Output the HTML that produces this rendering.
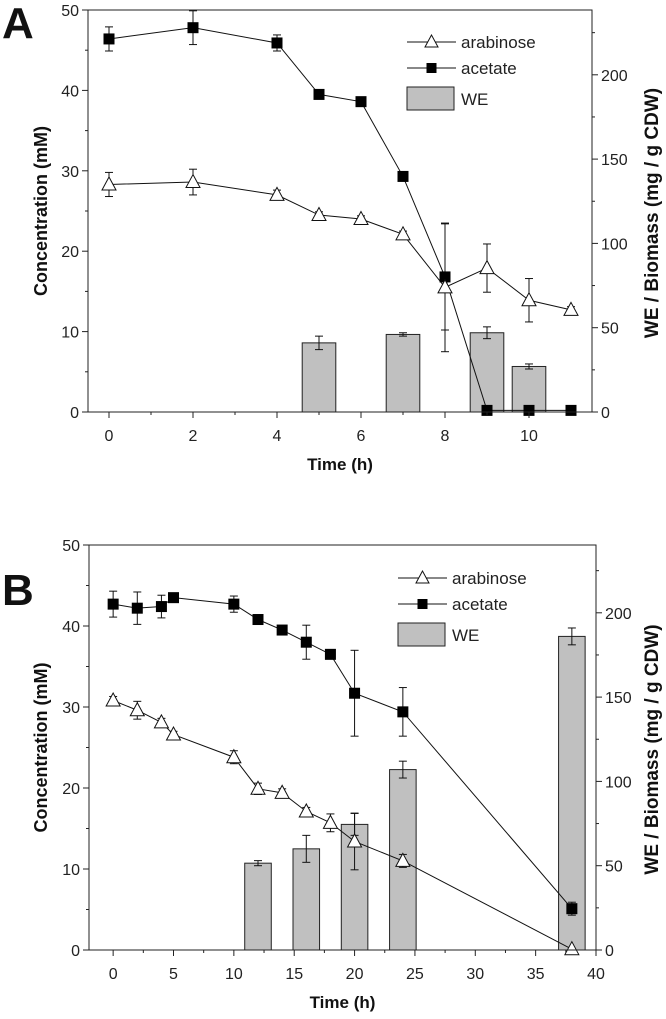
<!DOCTYPE html>
<html><head><meta charset="utf-8"><style>
body{margin:0;background:#fff;}
svg{display:block;font-family:"Liberation Sans",Arial,sans-serif;}
</style></head><body>
<svg id="fig" width="666" height="1019" viewBox="0 0 666 1019" xmlns="http://www.w3.org/2000/svg"></svg>
<script>
// Panel A data
const aTime = [0,2,4,5,6,7,8,9,10,11];
const aArab = [28.3,28.6,27.0,24.5,24.0,22.1,15.5,17.9,13.9,12.7];
const aArabErr = [1.5,1.6,0.6,0.4,0.4,0.4,8.0,3.0,2.7,0.4];
const aAcet = [46.4,47.8,45.9,39.5,38.6,29.3,16.8,0.2,0.2,0.2];
const aAcetErr = [1.5,2.1,1.0,0.3,0.4,0.5,6.6,0,0,0];
const aWETime = [5,7,9,10];
const aWE = [41,46,47,27];
const aWEErr = [4,1,3.5,1.5];
const aXTicks = [0,2,4,6,8,10];
// Panel B data
const bTime = [0,2,4,5,10,12,14,16,18,20,24,38];
const bArab = [30.8,29.6,28.1,26.6,23.8,19.9,19.4,17.1,15.7,13.4,11.0,0.1];
const bArabErr = [0.5,1.1,0.5,0.4,0.8,0.7,0.5,0.5,1.1,3.5,0.8,0];
const bAcet = [42.7,42.2,42.4,43.5,42.7,40.8,39.5,38.0,36.5,31.7,29.4,5.1];
const bAcetErr = [1.6,2.0,1.4,0.2,1.0,0.3,0.3,2.1,0.3,5.3,3.0,0.8];
const bWETime = [12,16,20,24,38];
const bWE = [51.5,60,74.5,107,186];
const bWEErr = [1.5,8,6.5,5,5];
const bXTicks = [0,5,10,15,20,25,30,35,40];
const yTicks = [0,10,20,30,40,50];
const y2Ticks = [0,50,100,150,200];

const NS="http://www.w3.org/2000/svg";
const svg=document.getElementById('fig');
function el(tag,attrs,parent,text){const e=document.createElementNS(NS,tag);for(const k in attrs)e.setAttribute(k,attrs[k]);if(text!==undefined)e.textContent=text;(parent||svg).appendChild(e);return e;}

function panel(cfg){
  const g=el('g',{});
  
  
  const X=v=>cfg.L+(v-cfg.xmin)/(cfg.xmax-cfg.xmin)*(cfg.R-cfg.L);
  const Y=v=>cfg.B-v/50*(cfg.B-cfg.T);
  const k2=84.3/50;
  const YR=v=>cfg.B-v*k2;
  cfg.weT.forEach((t,i)=>{
    const r=el('rect',{x:X(t-cfg.bw/2),y:YR(cfg.we[i]),width:X(t+cfg.bw/2)-X(t-cfg.bw/2),height:cfg.B-YR(cfg.we[i]),fill:'#c0c0c0',stroke:'#222','stroke-width':1},g);
    
    
    errbar(g,X(t),YR(cfg.we[i]+cfg.weE[i]),YR(cfg.we[i]-cfg.weE[i]),4);
  });
  const arabPts=cfg.t.map((t,i)=>X(t)+','+Y(cfg.arab[i])).join(' ');
  const acetPts=cfg.t.map((t,i)=>X(t)+','+Y(cfg.acet[i])).join(' ');
  const la=el('polyline',{points:acetPts,fill:'none',stroke:'#111','stroke-width':1},g);
  
  
  const lb=el('polyline',{points:arabPts,fill:'none',stroke:'#111','stroke-width':1},g);
  
  
  cfg.t.forEach((t,i)=>{
    if(cfg.acetE[i]>0)errbar(g,X(t),Y(cfg.acet[i]+cfg.acetE[i]),Y(cfg.acet[i]-cfg.acetE[i]),4);
    if(cfg.arabE[i]>0)errbar(g,X(t),Y(cfg.arab[i]+cfg.arabE[i]),Y(cfg.arab[i]-cfg.arabE[i]),4);
  });
  cfg.t.forEach((t,i)=>{
    const s=el('rect',{x:X(t)-5.5,y:Y(cfg.acet[i])-5.5,width:11,height:11,fill:'#000'},g);
    
    
  });
  cfg.t.forEach((t,i)=>{
    const x=X(t),y=Y(cfg.arab[i]);
    const p=el('polygon',{points:`${x},${y-7.5} ${x-7},${y+5.5} ${x+7},${y+5.5}`,fill:'#fff',stroke:'#111','stroke-width':1},g);
    
    
  });
  const f=el('rect',{x:cfg.L,y:cfg.T,width:cfg.R-cfg.L,height:cfg.B-cfg.T,fill:'none',stroke:'#222','stroke-width':1},g);
  
  
  cfg.xt.forEach((v,i)=>{
    el('line',{x1:X(v),x2:X(v),y1:cfg.B,y2:cfg.B+6,stroke:'#222'},g);
    const tl=el('text',{x:X(v),y:cfg.B+29,'text-anchor':'middle','font-size':16,fill:'#222'},g,v);
    
    
    if(i<cfg.xt.length-1){const m=(v+cfg.xt[i+1])/2;el('line',{x1:X(m),x2:X(m),y1:cfg.B,y2:cfg.B+3,stroke:'#222'},g);}
  });
  yTicks.forEach((v,i)=>{
    el('line',{x1:cfg.L-6,x2:cfg.L,y1:Y(v),y2:Y(v),stroke:'#222'},g);
    const tl=el('text',{x:cfg.L-9,y:Y(v)+6,'text-anchor':'end','font-size':16,fill:'#222'},g,v);
    
    
    if(i<yTicks.length-1)el('line',{x1:cfg.L-3,x2:cfg.L,y1:Y(v+5),y2:Y(v+5),stroke:'#222'},g);
  });
  y2Ticks.forEach(v=>{
    el('line',{x1:cfg.R,x2:cfg.R+6,y1:YR(v),y2:YR(v),stroke:'#222'},g);
    const tl=el('text',{x:cfg.R+9,y:YR(v)+6,'text-anchor':'start','font-size':16,fill:'#222'},g,v);
    
    
    el('line',{x1:cfg.R,x2:cfg.R+3,y1:YR(v+25),y2:YR(v+25),stroke:'#222'},g);
  });
  const xt=el('text',{x:(cfg.L+cfg.R)/2,y:cfg.B+58,'text-anchor':'middle','font-size':17,'font-weight':'bold',fill:'#111'},g,'Time (h)');
  
  
  const cy=(cfg.T+cfg.B)/2;
  const yt=el('text',{x:0,y:0,transform:`translate(47,${cy}) rotate(-90)`,'text-anchor':'middle','font-size':18,'font-weight':'bold',fill:'#111'},g,'Concentration (mM)');
  
  
  const y2t=el('text',{x:0,y:0,transform:`translate(658,${cy+2}) rotate(-90)`,'text-anchor':'middle','font-size':19,'font-weight':'bold',fill:'#111'},g,'WE / Biomass (mg / g CDW)');
  
  
  const pl=el('text',{x:2,y:cfg.T+cfg.labDy,'font-size':44,'font-weight':'bold',fill:'#111'},g,cfg.id);
  
  
  const lg=el('g',{},g);
  
  
  const lx=cfg.lx,ly=cfg.ly;
  el('line',{x1:lx,x2:lx+49,y1:ly,y2:ly,stroke:'#111'},lg);
  el('polygon',{points:`${lx+24.5},${ly-7} ${lx+18},${ly+5} ${lx+31},${ly+5}`,fill:'#fff',stroke:'#111'},lg);
  el('text',{x:lx+54,y:ly+6,'font-size':17,fill:'#222'},lg,'arabinose');
  el('line',{x1:lx,x2:lx+49,y1:ly+26,y2:ly+26,stroke:'#111'},lg);
  el('rect',{x:lx+19.5,y:ly+21,width:10,height:10,fill:'#000'},lg);
  el('text',{x:lx+54,y:ly+32,'font-size':17,fill:'#222'},lg,'acetate');
  el('rect',{x:lx,y:ly+45,width:47,height:23,fill:'#c0c0c0',stroke:'#222'},lg);
  el('text',{x:lx+54,y:ly+63,'font-size':17,fill:'#222'},lg,'WE');
}
function errbar(g,x,y1,y2,w){
  el('line',{x1:x,x2:x,y1:y1,y2:y2,stroke:'#111'},g);
  el('line',{x1:x-w,x2:x+w,y1:y1,y2:y1,stroke:'#111'},g);
  el('line',{x1:x-w,x2:x+w,y1:y2,y2:y2,stroke:'#111'},g);
}
panel({id:'A',L:88,R:592,T:10,B:412,xmin:-0.5,xmax:11.5,t:aTime,arab:aArab,arabE:aArabErr,acet:aAcet,acetE:aAcetErr,weT:aWETime,we:aWE,weE:aWEErr,bw:0.8,xt:aXTicks,lx:407,ly:42,labDy:28});
panel({id:'B',L:89,R:596,T:545,B:950,xmin:-2,xmax:40,t:bTime,arab:bArab,arabE:bArabErr,acet:bAcet,acetE:bAcetErr,weT:bWETime,we:bWE,weE:bWEErr,bw:2.2,xt:bXTicks,lx:398,ly:578,labDy:60});
</script>
</body></html>
